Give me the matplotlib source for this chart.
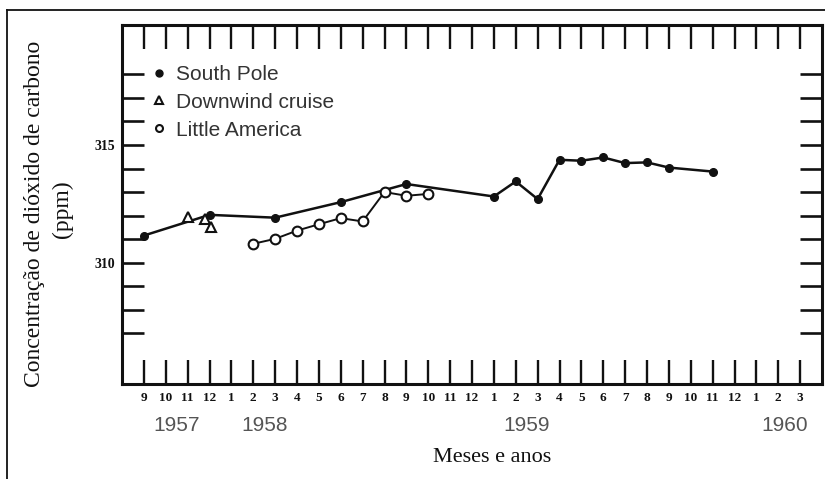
import matplotlib
matplotlib.use('Agg')
import matplotlib.pyplot as plt
from matplotlib.lines import Line2D

# x positions: month index counted from September 1957 (= 0)
month_labels = ['9', '10', '11', '12', '1', '2', '3', '4', '5', '6', '7', '8',
                '9', '10', '11', '12', '1', '2', '3', '4', '5', '6', '7', '8',
                '9', '10', '11', '12', '1', '2', '3']
year_labels = ['1957', '1958', '1959', '1960']
year_pos = [1.5, 5.5, 17.5, 29.3]

y_major = [310, 315]
y_minor = [307, 308, 309, 311, 312, 313, 314, 316, 317, 318]

sp_month = [0, 3, 6, 9, 12, 16, 17, 18, 19, 20, 21, 22, 23, 24, 26]
sp_ppm = [311.15, 312.03, 311.91, 312.57, 313.34, 312.81, 313.45, 312.70,
          314.37, 314.33, 314.47, 314.23, 314.26, 314.04, 313.87]

dc_month = [2, 2.8, 3.05]
dc_ppm = [311.95, 311.85, 311.50]

la_month = [5, 6, 7, 8, 9, 10, 11, 12, 13]
la_ppm = [310.80, 311.01, 311.36, 311.63, 311.89, 311.75, 313.00, 312.84, 312.92]

W, H = 825, 479
fig = plt.figure(figsize=(W / 100, H / 100), dpi=100)
fig.patch.set_facecolor('white')

# outer frame lines (top and left)
fig.add_artist(Line2D([7 / W, 7 / W], [0, 1 - 10 / H], color='#111', lw=1.3))
fig.add_artist(Line2D([7 / W, 1], [1 - 10 / H, 1 - 10 / H], color='#111', lw=1.3))

ax = fig.add_axes([122 / W, (H - 384) / H, 700 / W, 359 / H])
ax.set_xlim(-1, 31)
ax.set_ylim(304.84, 320.1)

ax.plot(sp_month, sp_ppm, color='#111', lw=1.8, marker='o', ms=5.5,
        markerfacecolor='#111', markeredgecolor='#111', zorder=3)
ax.plot(la_month, la_ppm, color='#111', lw=1.4, marker='o', ms=7,
        markerfacecolor='white', markeredgecolor='#111', markeredgewidth=1.5, zorder=4)
ax.plot(dc_month, dc_ppm, linestyle='none', marker='^', ms=7.5,
        markerfacecolor='white', markeredgecolor='#111', markeredgewidth=1.5, zorder=5)

for s in ax.spines.values():
    s.set_linewidth(2.2)
    s.set_color('#111')

ax.set_xticks(range(len(month_labels)))
ax.set_xticklabels(month_labels, fontfamily='Liberation Serif',
                   fontweight='bold', fontsize=9.5)
ax.tick_params(axis='x', which='both', direction='in', length=17, width=1.7,
               top=True, bottom=True, pad=6, colors='#111')
ax.set_yticks(y_major)
ax.set_yticklabels([str(v) for v in y_major], fontfamily='Liberation Serif',
                   fontweight='bold', fontsize=10)
ax.set_yticks(y_minor, minor=True)
ax.tick_params(axis='y', which='both', direction='in', length=16, width=1.9,
               left=True, right=True, pad=5, colors='#111')

for lab, pos in zip(year_labels, year_pos):
    ax.text(pos, -0.115, lab, transform=ax.get_xaxis_transform(),
            ha='center', va='center', fontsize=15, color='#555',
            fontfamily='Liberation Sans')

handles = [
    Line2D([], [], linestyle='none', marker='o', ms=5, color='#111'),
    Line2D([], [], linestyle='none', marker='^', ms=6, markerfacecolor='white',
           markeredgecolor='#111', markeredgewidth=1.5),
    Line2D([], [], linestyle='none', marker='o', ms=5, markerfacecolor='white',
           markeredgecolor='#111', markeredgewidth=1.5),
]
leg = ax.legend(handles, ['South Pole', 'Downwind cruise', 'Little America'],
                loc='upper left', bbox_to_anchor=((152 - 122) / 700, (384 - 65) / 359),
                frameon=False, handlelength=0.7, handletextpad=0.45,
                labelspacing=0.42, borderpad=0, borderaxespad=0,
                prop={'family': 'Liberation Sans', 'size': 15})
for t in leg.get_texts():
    t.set_color('#333')

fig.text(35 / W, 1 - 214 / H, 'Concentração de dióxido de carbono',
         rotation=90, ha='center', va='center', fontsize=17,
         fontfamily='Liberation Serif', color='#111')
fig.text(62 / W, 1 - 209 / H, '(ppm)', rotation=90, ha='center', va='center',
         fontsize=17, fontfamily='Liberation Serif', color='#111')
fig.text(492 / W, 1 - 457 / H, 'Meses e anos', ha='center', va='center',
         fontsize=16, fontfamily='Liberation Serif', color='#111')

fig.savefig('out.png', dpi=100)
